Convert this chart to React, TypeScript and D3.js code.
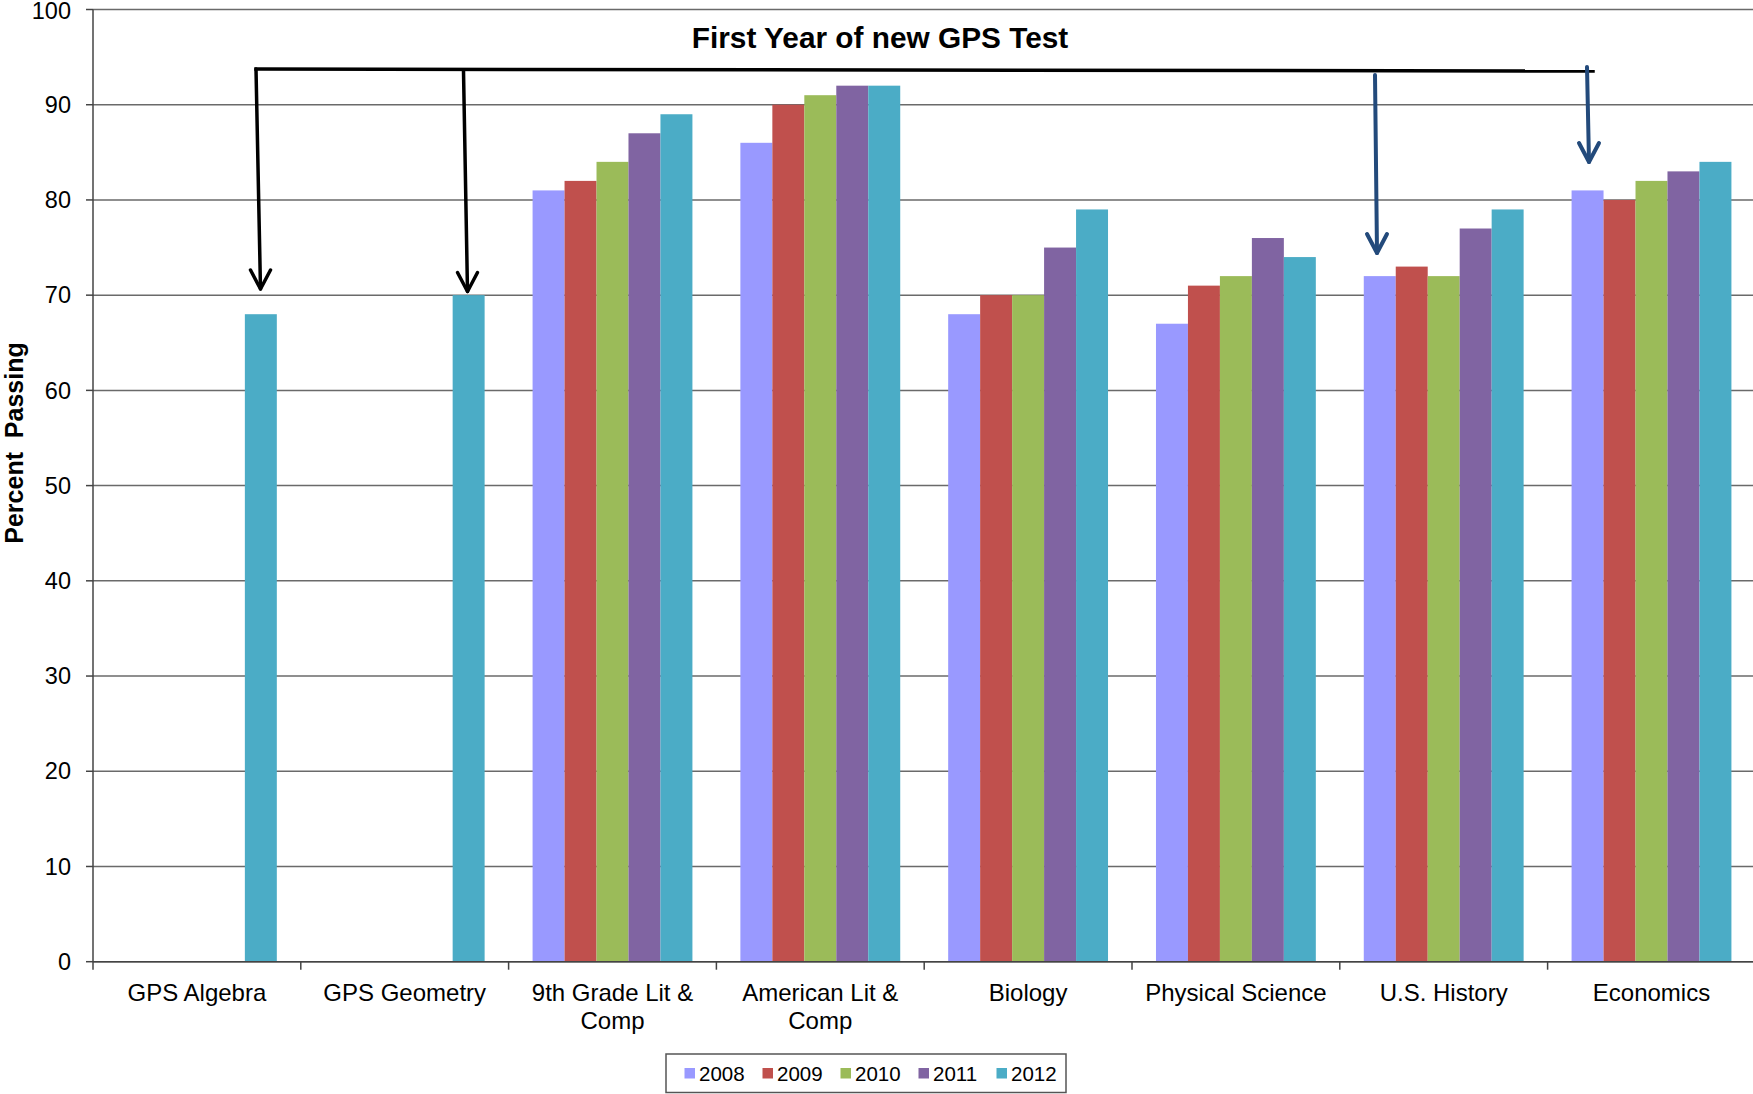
import React from "react";
import * as d3 from "d3";

const categories = [
  "GPS Algebra",
  "GPS Geometry",
  "9th Grade Lit & Comp",
  "American Lit & Comp",
  "Biology",
  "Physical Science",
  "U.S. History",
  "Economics",
];
const categoryLines = [
  ["GPS Algebra"],
  ["GPS Geometry"],
  ["9th Grade Lit &", "Comp"],
  ["American Lit &", "Comp"],
  ["Biology"],
  ["Physical Science"],
  ["U.S. History"],
  ["Economics"],
];
const years = ["2008", "2009", "2010", "2011", "2012"];
const values2008: (number | null)[] = [null, null, 81, 86, 68, 67, 72, 81];
const values2009: (number | null)[] = [null, null, 82, 90, 70, 71, 73, 80];
const values2010: (number | null)[] = [null, null, 84, 91, 70, 72, 72, 82];
const values2011: (number | null)[] = [null, null, 87, 92, 75, 76, 77, 83];
const values2012: (number | null)[] = [68, 70, 89, 92, 79, 74, 79, 84];
const seriesValues = [values2008, values2009, values2010, values2011, values2012];
const colors = ["#9999FF", "#C0504D", "#9BBB59", "#8064A2", "#4BACC6"];
const yTicks = [0, 10, 20, 30, 40, 50, 60, 70, 80, 90, 100];
const titleText = "First Year of new GPS Test";
const yLabel = "Percent  Passing";

const W = 1753;
const H = 1094;
const left = 93;
const catW = 207.8;
const top = 9.5;
const bottom = 961.7;
const FONT = "'Liberation Sans', Arial, sans-serif";

export default function App() {
  const x = d3
    .scaleBand<string>()
    .domain(categories)
    .range([left, left + catW * categories.length])
    .paddingInner(0)
    .paddingOuter(0);
  const xi = d3
    .scaleBand<string>()
    .domain(years)
    .range([0, x.bandwidth()])
    .paddingInner(0)
    .paddingOuter(0.75);
  const y = d3.scaleLinear().domain([0, 100]).range([bottom, top]);

  const arrowBlack = "#000";
  const arrowBlue = "#234A7B";

  const arrow = (x0: number, y0: number, x1: number, y1: number, color: string, sw: number, key: string) => {
    const ah = 19;
    const aw = 10;
    return (
      <g key={key} stroke={color} strokeWidth={sw} fill="none" strokeLinecap="round" strokeLinejoin="round">
        <line x1={x0} y1={y0} x2={x1} y2={y1} />
        <polyline points={`${x1 - aw},${y1 - ah} ${x1},${y1} ${x1 + aw},${y1 - ah}`} />
      </g>
    );
  };

  return (
    <svg
      width={W}
      height={H}
      style={{ position: "absolute", left: 0, top: 0, display: "block", background: "#fff" }}
      fontFamily={FONT}
    >
      <rect x={0} y={0} width={W} height={H} fill="#fff" />
      {/* gridlines */}
      {yTicks.map((t) => (
        <line key={"g" + t} x1={left} x2={W} y1={y(t)} y2={y(t)} stroke="#6a6a6a" strokeWidth={1.5} />
      ))}
      {/* bars */}
      {seriesValues.map((vals, si) =>
        vals.map((v, ci) =>
          v == null ? null : (
            <rect
              key={`b${si}-${ci}`}
              x={(x(categories[ci]) as number) + (xi(years[si]) as number)}
              y={y(v)}
              width={xi.bandwidth()}
              height={y(0) - y(v)}
              fill={colors[si]}
            />
          )
        )
      )}
      {/* axes */}
      <line x1={left} x2={left} y1={top} y2={bottom + 8} stroke="#444" strokeWidth={1.5} />
      <line x1={left} x2={W} y1={bottom} y2={bottom} stroke="#444" strokeWidth={1.5} />
      {yTicks.map((t) => (
        <g key={"yt" + t}>
          <line x1={left - 7} x2={left} y1={y(t)} y2={y(t)} stroke="#444" strokeWidth={1.5} />
          <text x={71} y={Math.max(y(t), 11)} dy="0.35em" textAnchor="end" fontSize={23.5} fill="#000">
            {t}
          </text>
        </g>
      ))}
      {categories.map((c, i) => (
        <g key={"xc" + i}>
          <line
            x1={(x(c) as number) + x.bandwidth()}
            x2={(x(c) as number) + x.bandwidth()}
            y1={bottom}
            y2={bottom + 8}
            stroke="#444"
            strokeWidth={1.5}
          />
          {categoryLines[i].map((ln, li) => (
            <text
              key={li}
              x={(x(c) as number) + x.bandwidth() / 2}
              y={1000.5 + li * 28}
              textAnchor="middle"
              fontSize={24}
              fill="#000"
            >
              {ln}
            </text>
          ))}
        </g>
      ))}
      {/* y label */}
      <text
        transform={`translate(22.5, 443) rotate(-90)`}
        textAnchor="middle"
        fontSize={25}
        fontWeight="bold"
        fill="#000"
        style={{ whiteSpace: "pre" }}
      >
        {yLabel}
      </text>
      {/* annotation */}
      <text x={880} y={47.5} textAnchor="middle" fontSize={29.8} fontWeight="bold" fill="#000">
        {titleText}
      </text>
      <line x1={256} y1={69} x2={1593} y2={71} stroke="#000" strokeWidth={3.5} strokeLinecap="square" />
      {arrow(256, 69, 260.5, 289, arrowBlack, 3.5, "a1")}
      {arrow(463.5, 71, 467.5, 291.5, arrowBlack, 3.5, "a2")}
      {arrow(1375, 75, 1377, 253, arrowBlue, 4, "a3")}
      {arrow(1587, 67, 1589, 162, arrowBlue, 4, "a4")}
      {/* legend */}
      <rect x={666} y={1054} width={400} height={38.5} fill="#fff" stroke="#555" strokeWidth={1.5} />
      {years.map((yr, i) => (
        <g key={"lg" + yr}>
          <rect x={684.5 + i * 78} y={1068} width={10.5} height={10.5} fill={colors[i]} />
          <text x={699 + i * 78} y={1081} fontSize={20.5} fill="#000">
            {yr}
          </text>
        </g>
      ))}
    </svg>
  );
}
